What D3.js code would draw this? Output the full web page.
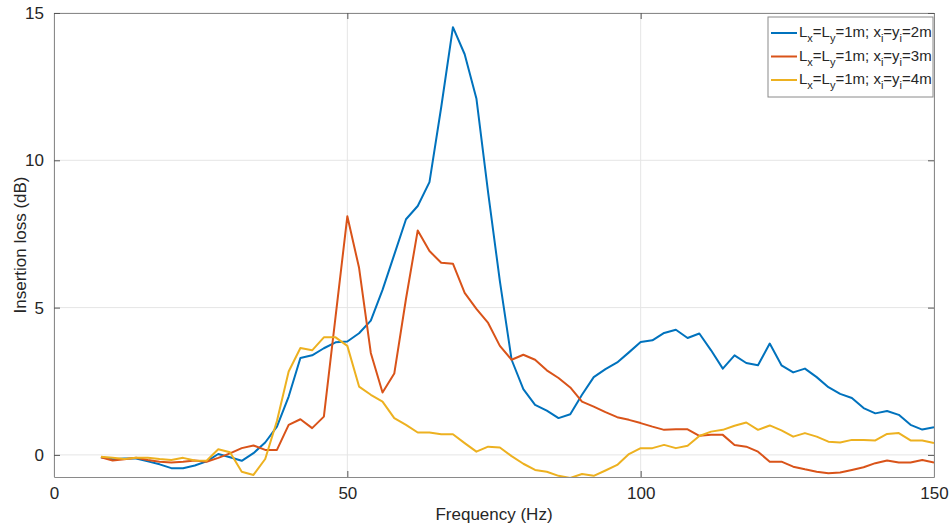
<!DOCTYPE html>
<html>
<head>
<meta charset="utf-8">
<script src="https://cdn.jsdelivr.net/npm/d3@7"></script>
<style>
  html, body { margin: 0; padding: 0; background: #fff; }
  svg { display: block; }
  text { font-family: "Liberation Sans", Arial, Helvetica, sans-serif; fill: #262626; }
</style>
</head>
<body>
<svg id="chart" width="950" height="528"></svg>
<script>
// ---- data ----
const frequency = [8,10,12,14,16,18,20,22,24,26,28,30,32,34,36,38,40,42,44,46,48,50,52,54,56,58,60,62,64,66,68,70,72,74,76,78,80,82,84,86,88,90,92,94,96,98,100,102,104,106,108,110,112,114,116,118,120,122,124,126,128,130,132,134,136,138,140,142,144,146,148,150];

const seriesA = [-0.08,-0.15,-0.12,-0.12,-0.22,-0.32,-0.45,-0.45,-0.36,-0.22,0.03,-0.08,-0.20,0.06,0.42,0.96,1.98,3.29,3.38,3.62,3.82,3.85,4.13,4.56,5.6,6.8,8.0,8.45,9.26,11.8,14.52,13.6,12.1,8.9,5.9,3.23,2.23,1.70,1.50,1.25,1.38,2.04,2.64,2.91,3.14,3.48,3.83,3.89,4.14,4.25,3.97,4.12,3.55,2.93,3.38,3.12,3.04,3.78,3.04,2.80,2.93,2.64,2.30,2.07,1.93,1.59,1.41,1.49,1.36,1.02,0.86,0.94];

const seriesB = [-0.08,-0.19,-0.15,-0.10,-0.17,-0.23,-0.26,-0.23,-0.19,-0.23,-0.10,0.05,0.23,0.32,0.17,0.17,1.02,1.21,0.91,1.30,4.7,8.1,6.35,3.46,2.12,2.76,5.3,7.62,6.92,6.52,6.49,5.5,4.96,4.48,3.70,3.23,3.40,3.23,2.87,2.61,2.29,1.81,1.64,1.45,1.28,1.19,1.08,0.96,0.85,0.87,0.87,0.65,0.68,0.68,0.34,0.28,0.11,-0.23,-0.23,-0.40,-0.49,-0.57,-0.62,-0.60,-0.51,-0.42,-0.28,-0.19,-0.26,-0.26,-0.17,-0.26];

const seriesC = [-0.06,-0.10,-0.14,-0.10,-0.10,-0.14,-0.17,-0.10,-0.19,-0.20,0.19,0.09,-0.57,-0.68,-0.14,1.15,2.83,3.63,3.55,3.99,3.99,3.70,2.32,2.04,1.81,1.25,1.02,0.76,0.76,0.70,0.70,0.40,0.11,0.28,0.25,-0.04,-0.30,-0.51,-0.57,-0.71,-0.78,-0.65,-0.71,-0.53,-0.34,0.03,0.23,0.23,0.34,0.23,0.31,0.64,0.79,0.85,0.99,1.10,0.85,1.00,0.83,0.62,0.74,0.62,0.45,0.42,0.51,0.51,0.49,0.71,0.74,0.49,0.49,0.40];

const seriesNames = ["2m", "3m", "4m"];
const seriesColors = ["#0072BD", "#D95319", "#EDB120"];
const xTicks = [0, 50, 100, 150];
const yTicks = [0, 5, 10, 15];
const xLabel = "Frequency (Hz)";
const yLabel = "Insertion loss (dB)";

// ---- layout ----
const svg = d3.select("#chart");
const L = 54, R = 934, T = 13, B = 477;
const x = d3.scaleLinear().domain([0, 150]).range([L, R]);
const y = d3.scaleLinear().domain([-0.75, 15]).range([B, T]);

// grid
const grid = svg.append("g");
grid.selectAll("line.gx").data(xTicks).join("line")
  .attr("x1", d => x(d)).attr("x2", d => x(d)).attr("y1", T).attr("y2", B)
  .attr("stroke", "#e5e5e5").attr("stroke-width", 1);
grid.selectAll("line.gy").data(yTicks).join("line")
  .attr("y1", d => y(d)).attr("y2", d => y(d)).attr("x1", L).attr("x2", R)
  .attr("stroke", "#e5e5e5").attr("stroke-width", 1);

// clip
svg.append("clipPath").attr("id", "clip").append("rect")
  .attr("x", L).attr("y", T).attr("width", R - L).attr("height", B - T + 1);

// lines
const all = [seriesA, seriesB, seriesC];
const line = d3.line().x((d, i) => x(frequency[i])).y(d => y(d));
svg.append("g").attr("clip-path", "url(#clip)")
  .selectAll("path").data(all).join("path")
  .attr("d", d => line(d))
  .attr("fill", "none")
  .attr("stroke", (d, i) => seriesColors[i])
  .attr("stroke-width", 2)
  .attr("stroke-linejoin", "round");

// axes
const axisColor = "#8a8a8a";
const fmt = d3.format("d");
const xAxis = svg.append("g").attr("transform", `translate(0,${B})`)
  .call(d3.axisBottom(x).tickValues(xTicks).tickFormat(fmt).tickSizeInner(-6).tickSizeOuter(0).tickPadding(10));
const xAxisTop = svg.append("g").attr("transform", `translate(0,${T})`)
  .call(d3.axisTop(x).tickValues(xTicks).tickFormat("").tickSizeInner(-6).tickSizeOuter(0));
const yAxis = svg.append("g").attr("transform", `translate(${L},0)`)
  .call(d3.axisLeft(y).tickValues(yTicks).tickFormat(fmt).tickSizeInner(-6).tickSizeOuter(0).tickPadding(10));
const yAxisR = svg.append("g").attr("transform", `translate(${R},0)`)
  .call(d3.axisRight(y).tickValues(yTicks).tickFormat("").tickSizeInner(-6).tickSizeOuter(0));
[xAxis, xAxisTop, yAxis, yAxisR].forEach(g => {
  g.select(".domain").attr("stroke", axisColor);
  g.selectAll(".tick line").attr("stroke", "#555");
  g.selectAll(".tick text").attr("font-size", 17).attr("fill", "#262626")
    .style("font-family", '"Liberation Sans", Arial, sans-serif');
});
xAxis.selectAll(".tick text").attr("dy", "0.71em");

// axis titles
svg.append("text").attr("x", (L + R) / 2).attr("y", 520)
  .attr("text-anchor", "middle").attr("font-size", 17).text(xLabel);
svg.append("text").attr("transform", `translate(26,${(T + B) / 2}) rotate(-90)`)
  .attr("text-anchor", "middle").attr("font-size", 17).text(yLabel);

// legend
const lg = svg.append("g");
lg.append("rect").attr("x", 768).attr("y", 17).attr("width", 165).attr("height", 80)
  .attr("fill", "#fff").attr("stroke", "#8a8a8a").attr("stroke-width", 1);
seriesNames.forEach((name, i) => {
  const yy = 33 + i * 23.5;
  lg.append("line").attr("x1", 771).attr("x2", 797).attr("y1", yy).attr("y2", yy)
    .attr("stroke", seriesColors[i]).attr("stroke-width", 2);
  const t = lg.append("text").attr("x", 799).attr("y", yy + 4).attr("font-size", 15);
  const parts = [
    ["L", 0], ["x", 1], ["=L", 0], ["y", 1], ["=1m; x", 0], ["i", 1], ["=y", 0], ["i", 1], ["=" + name, 0]
  ];
  let shifted = false;
  parts.forEach(([s, sub]) => {
    const sp = t.append("tspan").text(s);
    if (sub) { sp.attr("font-size", 11).attr("dy", shifted ? 0 : 5); shifted = true; }
    else { sp.attr("dy", shifted ? -5 : 0); shifted = false; }
  });
});
</script>
</body>
</html>
